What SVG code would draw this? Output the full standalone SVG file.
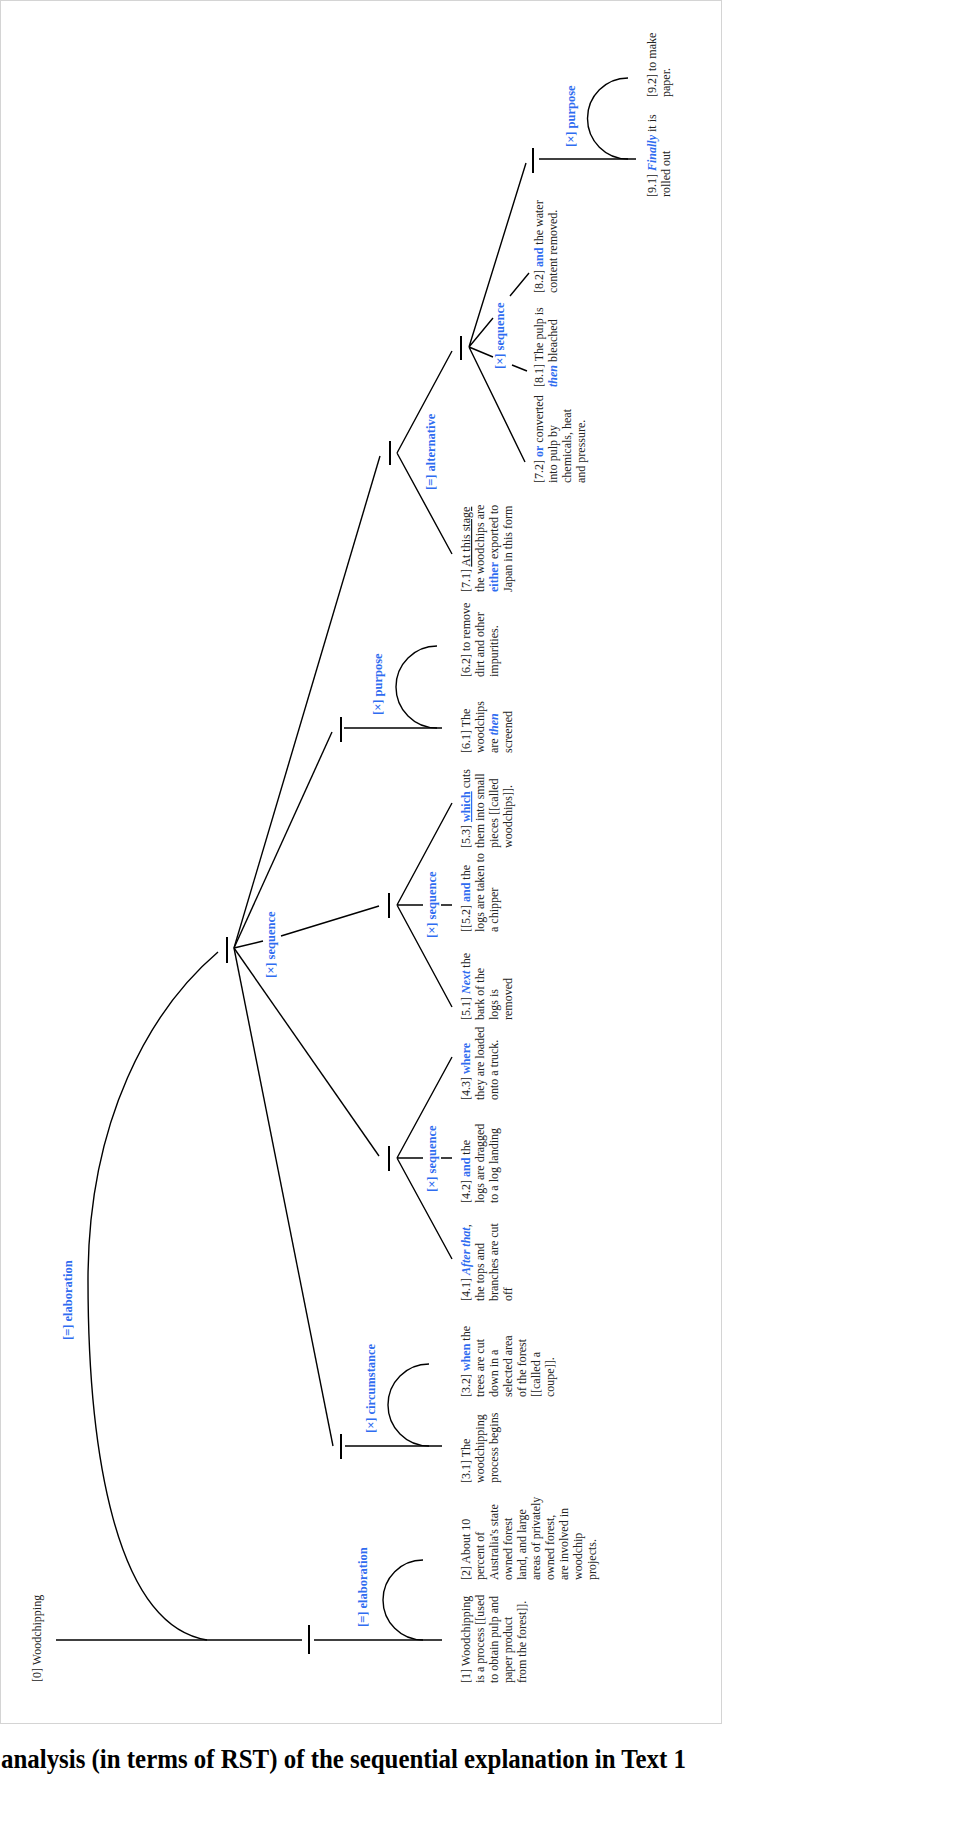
<svg xmlns="http://www.w3.org/2000/svg" width="955" height="1825" viewBox="0 0 955 1825">
<style>
.t{font-family:"Liberation Serif",serif;font-size:12px;fill:#222}
.k{font-weight:bold;fill:#2f6cf0}
.ki{font-weight:bold;font-style:italic;fill:#2f6cf0}
.u{text-decoration:underline}
.lbl{font-family:"Liberation Serif",serif;font-size:12.5px;font-weight:bold;fill:#2f6cf0}
.ln{stroke:#000;stroke-width:1.4;fill:none}
.tk{stroke:#000;stroke-width:2;fill:none}
.cap{font-family:"Liberation Serif",serif;font-size:27px;font-weight:bold;fill:#000}
</style>
<rect x="0" y="0" width="955" height="1825" fill="#fff"/>
<rect x="0.5" y="0.5" width="721" height="1723" fill="#fff" stroke="#d4d4d4" stroke-width="1"/>

<g id="connectors">
  <path class="ln" d="M56,1640 H302"/>
  <path class="tk" d="M309,1625 V1654"/>
  <path class="ln" d="M314,1640 H442"/>
  <path class="ln" d="M423,1560 A40,40 0 0 0 423,1640"/>
  <path class="ln" d="M207,1640 C115,1625 88,1450 88,1280 C88,1120 150,1010 218,952"/>
  <path class="tk" d="M227,937 V963"/>
  <path class="ln" d="M234,948 L333,1446"/>
  <path class="ln" d="M234,948 L379,1156"/>
  <path class="ln" d="M234,948 L263,941 M281,936 L379,906"/>
  <path class="ln" d="M234,948 L332,732"/>
  <path class="ln" d="M234,948 L380,456"/>
  <path class="tk" d="M341,1434 V1459"/>
  <path class="ln" d="M345,1446 H442"/>
  <path class="ln" d="M429,1364 A41,41 0 0 0 429,1446"/>
  <path class="tk" d="M389,1146 V1171"/>
  <path class="ln" d="M397,1158 L452,1057 M397,1158 L452,1259 M397,1158 H423 M441,1158 H452"/>
  <path class="tk" d="M389,893 V918"/>
  <path class="ln" d="M397,905 L452,803 M397,905 L452,1007 M397,905 H423 M441,905 H452"/>
  <path class="tk" d="M341,717 V742"/>
  <path class="ln" d="M344,728 H442"/>
  <path class="ln" d="M437,646 A41,41 0 0 0 437,728"/>
  <path class="tk" d="M390,441 V465"/>
  <path class="ln" d="M397,453 L452,554 M397,453 L452,351"/>
  <path class="tk" d="M461,336 V360"/>
  <path class="ln" d="M469,347 L525,462 M469,347 L493,357 M512,365 L527,371 M469,347 L493,318 M510,296 L529,273 M469,347 L526,163"/>
  <path class="tk" d="M533,148 V173"/>
  <path class="ln" d="M539,159 H636"/>
  <path class="ln" d="M628,78 A40.5,40.5 0 0 0 628,159"/>
</g>

<g id="labels">
  <text class="lbl" transform="translate(367,1627) rotate(-90)">[=] elaboration</text>
  <text class="lbl" transform="translate(72,1340) rotate(-90)">[=] elaboration</text>
  <text class="lbl" transform="translate(375,1433) rotate(-90)">[×] circumstance</text>
  <text class="lbl" transform="translate(275,978) rotate(-90)">[×] sequence</text>
  <text class="lbl" transform="translate(436,1192) rotate(-90)">[×] sequence</text>
  <text class="lbl" transform="translate(436,938) rotate(-90)">[×] sequence</text>
  <text class="lbl" transform="translate(382,715) rotate(-90)">[×] purpose</text>
  <text class="lbl" transform="translate(435,490) rotate(-90)">[=] alternative</text>
  <text class="lbl" transform="translate(504,369) rotate(-90)">[×] sequence</text>
  <text class="lbl" transform="translate(575,147) rotate(-90)">[×] purpose</text>
</g>

<g id="n0"><text class="t" transform="translate(41,1682) rotate(-90)">[0] Woodchipping</text></g>

<g id="n1"><text class="t" transform="translate(470,1683) rotate(-90)"><tspan x="0" y="0">[1] Woodchipping</tspan><tspan x="0" y="14">is a process [[used</tspan><tspan x="0" y="28">to obtain pulp and</tspan><tspan x="0" y="42">paper product</tspan><tspan x="0" y="56">from the forest]].</tspan></text></g>

<g id="n2"><text class="t" transform="translate(470,1580) rotate(-90)"><tspan x="0" y="0">[2] About 10</tspan><tspan x="0" y="14">percent of</tspan><tspan x="0" y="28">Australia's state</tspan><tspan x="0" y="42">owned forest</tspan><tspan x="0" y="56">land, and large</tspan><tspan x="0" y="70">areas of privately</tspan><tspan x="0" y="84">owned forest,</tspan><tspan x="0" y="98">are involved in</tspan><tspan x="0" y="112">woodchip</tspan><tspan x="0" y="126">projects.</tspan></text></g>

<g id="n3_1"><text class="t" transform="translate(470,1483) rotate(-90)"><tspan x="0" y="0">[3.1] The</tspan><tspan x="0" y="14">woodchipping</tspan><tspan x="0" y="28">process begins</tspan></text></g>

<g id="n3_2"><text class="t" transform="translate(470,1397) rotate(-90)"><tspan x="0" y="0">[3.2] <tspan class="k">when</tspan> the</tspan><tspan x="0" y="14">trees are cut</tspan><tspan x="0" y="28">down in a</tspan><tspan x="0" y="42">selected area</tspan><tspan x="0" y="56">of the forest</tspan><tspan x="0" y="70">[[called a</tspan><tspan x="0" y="84">coupe]].</tspan></text></g>

<g id="n4_1"><text class="t" transform="translate(470,1301) rotate(-90)"><tspan x="0" y="0">[4.1] <tspan class="ki">After that</tspan>,</tspan><tspan x="0" y="14">the tops and</tspan><tspan x="0" y="28">branches are cut</tspan><tspan x="0" y="42">off</tspan></text></g>

<g id="n4_2"><text class="t" transform="translate(470,1203) rotate(-90)"><tspan x="0" y="0">[4.2] <tspan class="k">and</tspan> the</tspan><tspan x="0" y="14">logs are dragged</tspan><tspan x="0" y="28">to a log landing</tspan></text></g>

<g id="n4_3"><text class="t" transform="translate(470,1100) rotate(-90)"><tspan x="0" y="0">[4.3] <tspan class="k">where</tspan></tspan><tspan x="0" y="14">they are loaded</tspan><tspan x="0" y="28">onto a truck.</tspan></text></g>

<g id="n5_1"><text class="t" transform="translate(470,1020) rotate(-90)"><tspan x="0" y="0">[5.1] <tspan class="ki">Next</tspan> the</tspan><tspan x="0" y="14">bark of the</tspan><tspan x="0" y="28">logs is</tspan><tspan x="0" y="42">removed</tspan></text></g>

<g id="n5_2"><text class="t" transform="translate(470,932) rotate(-90)"><tspan x="0" y="0">[[5.2] <tspan class="k">and</tspan> the</tspan><tspan x="0" y="14">logs are taken to</tspan><tspan x="0" y="28">a chipper</tspan></text></g>

<g id="n5_3"><text class="t" transform="translate(470,848) rotate(-90)"><tspan x="0" y="0">[5.3] <tspan class="k u">which</tspan> cuts</tspan><tspan x="0" y="14">them into small</tspan><tspan x="0" y="28">pieces [[called</tspan><tspan x="0" y="42">woodchips]].</tspan></text></g>

<g id="n6_1"><text class="t" transform="translate(470,753) rotate(-90)"><tspan x="0" y="0">[6.1] The</tspan><tspan x="0" y="14">woodchips</tspan><tspan x="0" y="28">are <tspan class="ki">then</tspan></tspan><tspan x="0" y="42">screened</tspan></text></g>

<g id="n6_2"><text class="t" transform="translate(470,677) rotate(-90)"><tspan x="0" y="0">[6.2] to remove</tspan><tspan x="0" y="14">dirt and other</tspan><tspan x="0" y="28">impurities.</tspan></text></g>

<g id="n7_1"><text class="t" transform="translate(470,592) rotate(-90)"><tspan x="0" y="0">[7.1] <tspan class="u">At this stage</tspan></tspan><tspan x="0" y="14">the woodchips are</tspan><tspan x="0" y="28"><tspan class="k">either</tspan> exported to</tspan><tspan x="0" y="42">Japan in this form</tspan></text></g>

<g id="n7_2"><text class="t" transform="translate(543,483) rotate(-90)"><tspan x="0" y="0">[7.2] <tspan class="k">or</tspan> converted</tspan><tspan x="0" y="14">into pulp by</tspan><tspan x="0" y="28">chemicals, heat</tspan><tspan x="0" y="42">and pressure.</tspan></text></g>

<g id="n8_1"><text class="t" transform="translate(543,387) rotate(-90)"><tspan x="0" y="0">[8.1] The pulp is</tspan><tspan x="0" y="14"><tspan class="ki">then</tspan> bleached</tspan></text></g>

<g id="n8_2"><text class="t" transform="translate(543,293) rotate(-90)"><tspan x="0" y="0">[8.2] <tspan class="k">and</tspan> the water</tspan><tspan x="0" y="14">content removed.</tspan></text></g>

<g id="n9_1"><text class="t" transform="translate(656,197) rotate(-90)"><tspan x="0" y="0">[9.1] <tspan class="ki">Finally</tspan> it is</tspan><tspan x="0" y="14">rolled out</tspan></text></g>

<g id="n9_2"><text class="t" transform="translate(656,97) rotate(-90)"><tspan x="0" y="0">[9.2] to make</tspan><tspan x="0" y="14">paper.</tspan></text></g>

<g id="caption"><text class="cap" x="1" y="1768" textLength="685" lengthAdjust="spacingAndGlyphs">analysis (in terms of RST) of the sequential explanation in Text 1</text></g>
</svg>
